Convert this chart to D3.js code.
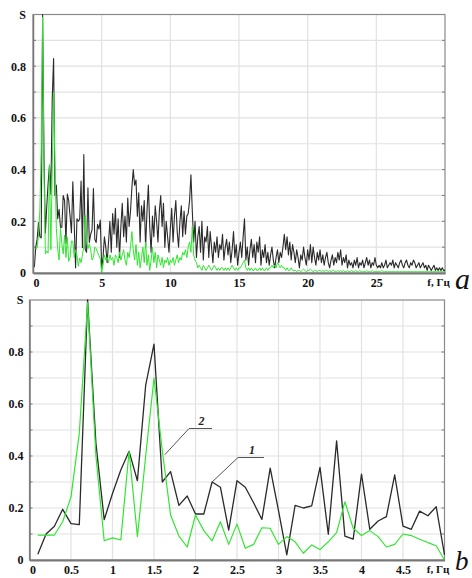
<!DOCTYPE html>
<html>
<head>
<meta charset="utf-8">
<script src="https://cdn.jsdelivr.net/npm/d3@7"></script>
<style>
  body { margin: 0; background: #fff; }
  svg { display: block; }
</style>
</head>
<body>
<svg width="472" height="578"></svg>
<script>
// spectrum S(f), sampled every 0.1 Hz starting at 0.1 Hz
// series 1 (black)
var spec1 = [
  0.022, 0.10, 0.13, 0.195, 0.14, 0.136, 1.0, 0.45, 0.155, 0.256,
  0.346, 0.418, 0.305, 0.673, 0.83, 0.30, 0.34, 0.21, 0.246, 0.177,
  0.177, 0.30, 0.28, 0.115, 0.305, 0.28, 0.22, 0.156, 0.353, 0.19,
  0.02, 0.21, 0.20, 0.208, 0.356, 0.099, 0.458, 0.092, 0.08, 0.33,
  0.118, 0.15, 0.167, 0.327, 0.13, 0.118, 0.188, 0.17, 0.205, 0.02,
  0.06, 0.14, 0.10, 0.04, 0.12, 0.20, 0.08, 0.23, 0.15, 0.25,
  0.10, 0.21, 0.06, 0.18, 0.27, 0.14, 0.22, 0.12, 0.29, 0.18,
  0.24, 0.33, 0.40, 0.34, 0.36, 0.22, 0.31, 0.12, 0.26, 0.20,
  0.28, 0.10, 0.24, 0.34, 0.18, 0.08, 0.22, 0.14, 0.26, 0.20,
  0.12, 0.24, 0.30, 0.18, 0.27, 0.10, 0.20, 0.14, 0.08, 0.17,
  0.25, 0.12, 0.22, 0.28, 0.16, 0.10, 0.20, 0.26, 0.14, 0.24,
  0.15, 0.22, 0.23, 0.28, 0.38, 0.24, 0.12, 0.20, 0.06, 0.14,
  0.18, 0.08, 0.20, 0.05, 0.14, 0.12, 0.18, 0.06, 0.16, 0.10,
  0.04, 0.12, 0.08, 0.14, 0.06, 0.11, 0.09, 0.15, 0.05, 0.10,
  0.13, 0.07, 0.12, 0.04, 0.09, 0.16, 0.06, 0.11, 0.03, 0.08,
  0.12, 0.06, 0.14, 0.21, 0.05, 0.10, 0.03, 0.09, 0.13, 0.06,
  0.11, 0.04, 0.12, 0.08, 0.14, 0.03, 0.09, 0.06, 0.11, 0.04,
  0.08, 0.03, 0.07, 0.10, 0.05, 0.02, 0.06, 0.09, 0.04, 0.08,
  0.06, 0.10, 0.15, 0.09, 0.14, 0.07, 0.12, 0.05, 0.11, 0.08,
  0.04, 0.09, 0.06, 0.02, 0.07, 0.05, 0.10, 0.06, 0.03, 0.09,
  0.05, 0.11, 0.04, 0.10, 0.06, 0.03, 0.08, 0.05, 0.09, 0.04,
  0.07, 0.03, 0.06, 0.08, 0.04, 0.02, 0.05, 0.07, 0.03, 0.06,
  0.04, 0.08, 0.05, 0.09, 0.03, 0.06, 0.04, 0.07, 0.02, 0.05,
  0.03, 0.04, 0.02, 0.05, 0.03, 0.06, 0.02, 0.04, 0.03, 0.05,
  0.02, 0.04, 0.06, 0.03, 0.05, 0.02, 0.04, 0.03, 0.06, 0.03,
  0.02, 0.03, 0.02, 0.04, 0.02, 0.03, 0.05, 0.02, 0.03, 0.04,
  0.03, 0.05, 0.02, 0.04, 0.03, 0.02, 0.04, 0.05, 0.03, 0.02,
  0.04, 0.05, 0.03, 0.02, 0.04, 0.03, 0.05, 0.04, 0.02, 0.03,
  0.04, 0.02, 0.03, 0.04, 0.02, 0.03, 0.01, 0.03, 0.02, 0.01,
  0.02, 0.03, 0.01, 0.02, 0.01, 0.02, 0.01, 0.02, 0.01, 0.01
];
// series 2 (green)
var spec2 = [
  0.096, 0.096, 0.096, 0.147, 0.243, 0.487, 0.99, 0.40, 0.074, 0.085,
  0.077, 0.418, 0.09, 0.40, 0.70, 0.42, 0.173, 0.092, 0.05, 0.173,
  0.113, 0.074, 0.147, 0.06, 0.138, 0.045, 0.06, 0.124, 0.122, 0.06,
  0.09, 0.07, 0.026, 0.058, 0.04, 0.07, 0.105, 0.224, 0.122, 0.094,
  0.113, 0.09, 0.05, 0.06, 0.10, 0.094, 0.08, 0.067, 0.055, 0.0,
  0.03, 0.07, 0.05, 0.06, 0.04, 0.07, 0.05, 0.06, 0.03, 0.07,
  0.06, 0.04, 0.08, 0.05, 0.07, 0.09, 0.05, 0.03, 0.08, 0.06,
  0.10, 0.16, 0.09, 0.05, 0.11, 0.03, 0.08, 0.02, 0.06, 0.10,
  0.04, 0.12, 0.03, 0.07, 0.01, 0.05, 0.10, 0.04, 0.08, 0.02,
  0.07, 0.05, 0.03, 0.06, 0.02, 0.05, 0.04, 0.06, 0.03, 0.05,
  0.04, 0.06, 0.03, 0.05, 0.07, 0.04, 0.06, 0.05, 0.08, 0.07,
  0.09, 0.06, 0.10, 0.12, 0.08, 0.18, 0.07, 0.05, 0.04, 0.02,
  0.03, 0.02, 0.01, 0.03, 0.02, 0.01, 0.02, 0.03, 0.02, 0.01,
  0.02, 0.03, 0.02, 0.01, 0.02, 0.01, 0.02, 0.02, 0.01, 0.02,
  0.01, 0.02, 0.01, 0.02, 0.03, 0.02, 0.01, 0.02, 0.01, 0.02,
  0.02, 0.03, 0.04, 0.05, 0.02, 0.01, 0.02, 0.01, 0.02, 0.01,
  0.01, 0.02, 0.01, 0.01, 0.02, 0.01, 0.02, 0.01, 0.01, 0.02,
  0.01, 0.02, 0.02, 0.03, 0.02, 0.03, 0.02, 0.04, 0.03, 0.02,
  0.03, 0.02, 0.02, 0.01, 0.02, 0.01, 0.01, 0.02, 0.01, 0.01,
  0.01, 0.005, 0.01, 0.01, 0.005, 0.01, 0.015, 0.01, 0.005, 0.01,
  0.01, 0.015, 0.01, 0.005, 0.01, 0.01, 0.005, 0.01, 0.01, 0.005,
  0.01, 0.005, 0.01, 0.01, 0.005, 0.01, 0.005, 0.01, 0.01, 0.005,
  0.005, 0.01, 0.005, 0.01, 0.005, 0.01, 0.005, 0.005, 0.01, 0.005,
  0.005, 0.01, 0.005, 0.005, 0.01, 0.005, 0.005, 0.01, 0.005, 0.005,
  0.005, 0.005, 0.01, 0.005, 0.005, 0.005, 0.01, 0.005, 0.005, 0.005,
  0.005, 0.005, 0.005, 0.01, 0.005, 0.005, 0.005, 0.005, 0.005, 0.005,
  0.005, 0.005, 0.005, 0.005, 0.005, 0.005, 0.005, 0.005, 0.005, 0.005,
  0.005, 0.005, 0.005, 0.005, 0.005, 0.005, 0.005, 0.005, 0.005, 0.005,
  0.005, 0.005, 0.005, 0.005, 0.005, 0.005, 0.005, 0.005, 0.005, 0.005,
  0.005, 0.005, 0.005, 0.005, 0.005, 0.005, 0.005, 0.005, 0.005, 0.005
];
// frequency grid, Hz
var freq = d3.range(spec1.length).map(function (i) { return +((i + 1) * 0.1).toFixed(1); });

// tick values and labels
var yTicks = [0, 0.2, 0.4, 0.6, 0.8, 1];
var xTicksTop = [0, 5, 10, 15, 20, 25, 30];
var xTicksBottom = [0, 0.5, 1, 1.5, 2, 2.5, 3, 3.5, 4, 4.5, 5];
var unitLabel = 'f, Гц';

var serif = '"Liberation Serif", "Times New Roman", "DejaVu Serif", serif';
var svg = d3.select('svg');
var blackColor = '#2a2a2a';
var greenColor = '#2ee62e';

function drawPanel(opt) {
    var x = d3.scaleLinear().domain(opt.xDomain).range([opt.l, opt.r]);
    var y = d3.scaleLinear().domain([0, 1]).range([opt.b, opt.t]);
    var g = svg.append('g');

    // grid: horizontal every 0.1, vertical on major x ticks
    g.append('g').selectAll('line.h').data(d3.range(1, 10).map(function (d) { return d / 10; }))
        .enter().append('line')
        .attr('x1', opt.l).attr('x2', opt.r)
        .attr('y1', function (d) { return y(d); }).attr('y2', function (d) { return y(d); })
        .attr('stroke', '#e2e2e2').attr('stroke-width', 1.2);
    g.append('g').selectAll('line.v').data(opt.xTicks.slice(1, -1))
        .enter().append('line')
        .attr('x1', function (d) { return x(d); }).attr('x2', function (d) { return x(d); })
        .attr('y1', opt.t).attr('y2', opt.b)
        .attr('stroke', '#e2e2e2').attr('stroke-width', 1.2);

    // small inner ticks on left and right borders
    var minor = d3.range(1, 10).map(function (d) { return d / 10; });
    g.append('g').selectAll('line').data(minor).enter().append('line')
        .attr('x1', opt.r - 3).attr('x2', opt.r)
        .attr('y1', function (d) { return y(d); }).attr('y2', function (d) { return y(d); })
        .attr('stroke', '#777');
    g.append('g').selectAll('line').data(minor).enter().append('line')
        .attr('x1', opt.l).attr('x2', opt.l + 3)
        .attr('y1', function (d) { return y(d); }).attr('y2', function (d) { return y(d); })
        .attr('stroke', '#777');

    // frame
    g.append('rect')
        .attr('x', opt.l).attr('y', opt.t)
        .attr('width', opt.r - opt.l).attr('height', opt.b - opt.t)
        .attr('fill', 'none').attr('stroke', '#8a8a8a').attr('stroke-width', 1.2);

    // lines
    var line = d3.line().x(function (d) { return x(d[0]); }).y(function (d) { return y(d[1]); });
    var n = opt.count;
    var s1 = freq.slice(0, n).map(function (f, i) { return [f, spec1[i]]; });
    var s2 = freq.slice(0, n).map(function (f, i) { return [f, spec2[i]]; });
    g.append('path').datum(s1).attr('d', line)
        .attr('fill', 'none').attr('stroke', blackColor).attr('stroke-width', opt.lw)
        .attr('stroke-linejoin', 'round');
    g.append('path').datum(s2).attr('d', line)
        .attr('fill', 'none').attr('stroke', greenColor).attr('stroke-width', opt.lw * 0.9)
        .attr('stroke-linejoin', 'round');

    // axes
    var yAxis = d3.axisLeft(y).tickValues(yTicks).tickSize(0).tickPadding(opt.yPad)
        .tickFormat(function (d) { return d === 1 ? 'S' : (d === 0 ? '0' : d3.format('.1f')(d)); });
    var ya = g.append('g').attr('transform', 'translate(' + opt.l + ',0)').call(yAxis)
        .attr('font-family', serif).attr('font-size', 12).attr('font-weight', 'bold');
    ya.select('.domain').attr('stroke', '#777').attr('stroke-width', 1.5);
    ya.selectAll('.tick text').attr('fill', '#111');

    var last = opt.xTicks[opt.xTicks.length - 1];
    var xAxis = d3.axisBottom(x).tickValues(opt.xTicks).tickSize(0).tickPadding(5)
        .tickFormat(function (d) { return d === last ? unitLabel : String(d); });
    var xa = g.append('g').attr('transform', 'translate(0,' + opt.b + ')').call(xAxis)
        .attr('font-family', serif).attr('font-size', 12).attr('font-weight', 'bold');
    xa.select('.domain').attr('stroke', '#777').attr('stroke-width', 2);
    xa.selectAll('.tick text').attr('fill', '#111');
    xa.selectAll('.tick text').filter(function (d) { return d === last; })
        .attr('dx', -7).attr('font-size', 11);
    xa.selectAll('.tick text').filter(function (d) { return d === 0; }).attr('dx', 3);

    // panel letter
    svg.append('text')
        .attr('x', 455).attr('y', opt.letterY)
        .attr('font-family', serif)
        .attr('font-style', 'italic').attr('font-size', opt.letterSize)
        .attr('fill', '#111')
        .text(opt.letter);

    return { x: x, y: y, g: g };
}

drawPanel({ xDomain: [0, 30], l: 33, r: 445, t: 14.5, b: 273, xTicks: xTicksTop,
    count: 300, lw: 1.1, yPad: 7, letter: 'a', letterY: 289, letterSize: 30 });

var bottom = drawPanel({ xDomain: [0, 5], l: 29.5, r: 444.5, t: 300, b: 560, xTicks: xTicksBottom,
    count: 50, lw: 1.3, yPad: 6, letter: 'b', letterY: 570, letterSize: 27 });

// curve labels with leader lines
var callouts = [
    { label: '2', f: 1.63, s: 0.405, tx: 189, ty: 428.5, tw: 23 },
    { label: '1', f: 2.2, s: 0.30, tx: 238, ty: 457.5, tw: 26 }
];
var cg = bottom.g.append('g');
callouts.forEach(function (c) {
    cg.append('path')
        .attr('d', 'M' + bottom.x(c.f) + ',' + bottom.y(c.s) + 'L' + c.tx + ',' + c.ty + 'h' + c.tw)
        .attr('fill', 'none').attr('stroke', '#555').attr('stroke-width', 1);
    cg.append('text')
        .attr('x', c.tx + c.tw / 2 + 1).attr('y', c.ty - 4)
        .attr('text-anchor', 'middle')
        .attr('font-family', serif)
        .attr('font-style', 'italic').attr('font-weight', 'bold').attr('font-size', 12)
        .attr('fill', '#222')
        .text(c.label);
});
</script>
</body>
</html>
